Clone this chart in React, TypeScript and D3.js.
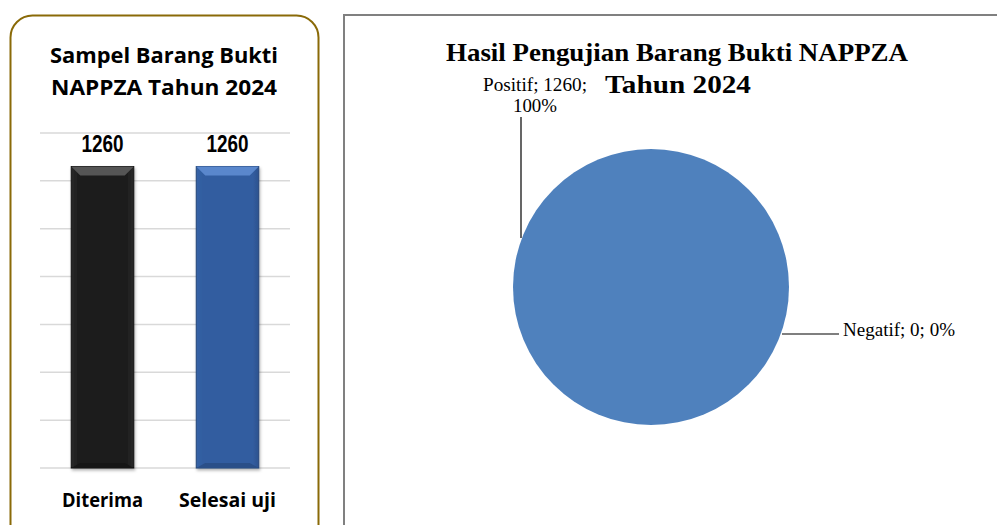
import React from "react";
import * as d3 from "d3";

const barCategories = ["Diterima", "Selesai uji"];
const barValues = [1260, 1260];
const barTicks = [0, 200, 400, 600, 800, 1000, 1200, 1400];
const pieLabels = ["Positif", "Negatif"];
const pieValues = [1260, 0];

export default function App() {
  const W = 997, H = 525;
  const x = d3.scaleBand().domain(barCategories).range([40, 290]).paddingInner(0.5).paddingOuter(0.25);
  const y = d3.scaleLinear().domain([0, 1400]).range([468, 133]);
  const total = d3.sum(pieValues);
  const pie = d3.pie<number>().sort(null).value((d) => d)(pieValues);
  const cx = 651, cy = 287, r = 138;
  const arc = d3.arc<d3.PieArcDatum<number>>().innerRadius(0).outerRadius(r);
  const sans = "'Open Sans', 'Noto Sans', sans-serif";
  const serif = "'Liberation Serif', 'DejaVu Serif', serif";
  const barFills = ["url(#gBlack)", "url(#gBlue)"];
  const catWidths = [81, 97];
  return (
    <svg width={W} height={H} style={{ position: "absolute", left: 0, top: 0 }}>
      <defs>
        <linearGradient id="gBlack" x1="0" x2="1">
          <stop offset="0" stopColor="#2a2a2a" />
          <stop offset="0.1" stopColor="#1e1e1e" />
          <stop offset="0.9" stopColor="#1e1e1e" />
          <stop offset="1" stopColor="#2a2a2a" />
        </linearGradient>
        <linearGradient id="gBlue" x1="0" x2="1">
          <stop offset="0" stopColor="#3563a6" />
          <stop offset="0.1" stopColor="#325da0" />
          <stop offset="0.9" stopColor="#325da0" />
          <stop offset="1" stopColor="#2c538f" />
        </linearGradient>
        <filter id="sh" x="-20%" y="-5%" width="140%" height="110%">
          <feDropShadow dx="1" dy="2" stdDeviation="1.5" floodColor="#000" floodOpacity="0.3" />
        </filter>
      </defs>
      <rect x={0} y={0} width={W} height={H} fill="#fff" />
      {/* Left panel */}
      <rect x={10.5} y={15.5} width={308} height={540} rx={22} fill="#fff" stroke="#8a6a08" strokeWidth={2} />
      <text x={164} y={63} textAnchor="middle" fontFamily={sans} fontWeight="bold" fontSize={22} textLength={228} lengthAdjust="spacingAndGlyphs">Sampel Barang Bukti</text>
      <text x={164} y={95} textAnchor="middle" fontFamily={sans} fontWeight="bold" fontSize={22} textLength={226} lengthAdjust="spacingAndGlyphs">NAPPZA Tahun 2024</text>
      {barTicks.map((t) => (
        <line key={t} x1={40} x2={290} y1={y(t)} y2={y(t)} stroke="#d9d9d9" strokeWidth={1.5} />
      ))}
      {barCategories.map((c, i) => {
        const bx = x(c)!, bw = x.bandwidth(), top = y(barValues[i]);
        const isBlue = i === 1;
        return (
          <g key={c}>
            <rect x={bx} y={top} width={bw} height={468 - top} fill={barFills[i]} stroke={isBlue ? "#26467a" : "#111"} strokeWidth={1} filter="url(#sh)" />
            <polygon points={`${bx},${top} ${bx + bw},${top} ${bx + bw - 9},${top + 9} ${bx + 9},${top + 9}`} fill={isBlue ? "#5a87cc" : "#555"} />
            <polygon points={`${bx + 9},${468 - 5} ${bx + bw - 9},${468 - 5} ${bx + bw},${468} ${bx},${468}`} fill={isBlue ? "#2a4f88" : "#161616"} />
            <text x={bx + bw / 2} y={152} textAnchor="middle" fontFamily="'Liberation Sans', Arial, sans-serif" fontWeight="bold" fontSize={24} textLength={42} lengthAdjust="spacingAndGlyphs">{barValues[i]}</text>
            <text x={bx + bw / 2} y={507} textAnchor="middle" fontFamily={sans} fontWeight="bold" fontSize={20} textLength={catWidths[i]} lengthAdjust="spacingAndGlyphs">{c}</text>
          </g>
        );
      })}
      {/* Right panel */}
      <rect x={344} y={15} width={700} height={560} fill="#fff" stroke="#808080" strokeWidth={2} />
      <text x={677} y={61} textAnchor="middle" fontFamily={serif} fontWeight="bold" fontSize={26} textLength={462} lengthAdjust="spacingAndGlyphs">Hasil Pengujian Barang Bukti NAPPZA</text>
      <text x={678} y={93} textAnchor="middle" fontFamily={serif} fontWeight="bold" fontSize={26} textLength={146} lengthAdjust="spacingAndGlyphs">Tahun 2024</text>
      <g transform={`translate(${cx},${cy})`}>
        {pie.map((p, i) => (
          <path key={pieLabels[i]} d={arc(p) || ""} fill="#4f81bd" />
        ))}
      </g>
      <line x1={521} x2={521} y1={117} y2={238} stroke="#000" strokeWidth={1.2} />
      <text x={535} y={91} textAnchor="middle" fontFamily={serif} fontSize={19} textLength={104} lengthAdjust="spacingAndGlyphs">{`${pieLabels[0]}; ${pieValues[0]};`}</text>
      <text x={535} y={112} textAnchor="middle" fontFamily={serif} fontSize={19} textLength={44} lengthAdjust="spacingAndGlyphs">{`${Math.round((pieValues[0] / total) * 100)}%`}</text>
      <line x1={782} x2={839} y1={334} y2={334} stroke="#000" strokeWidth={1.2} />
      <text x={843} y={336} fontFamily={serif} fontSize={19} textLength={112} lengthAdjust="spacingAndGlyphs">{`${pieLabels[1]}; ${pieValues[1]}; ${Math.round((pieValues[1] / total) * 100)}%`}</text>
    </svg>
  );
}
